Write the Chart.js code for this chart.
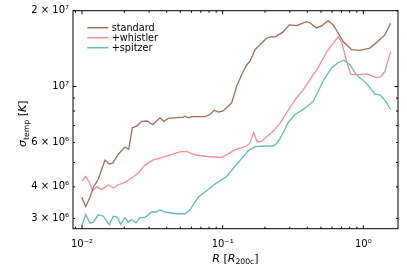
<!DOCTYPE html>
<html>
<head>
<meta charset="utf-8">
<script src="https://cdn.jsdelivr.net/npm/chart.js@4.4.1/dist/chart.umd.min.js"></script>
<style>
  html, body { margin: 0; padding: 0; background: #fff; }
  #wrap { width: 407px; height: 271px; }
</style>
</head>
<body>
<div id="wrap"><canvas id="chart" width="407" height="271"></canvas></div>
<script>
// radius in R_200c, sigma_temp in units of 1e6 K
const stdR = [0.00995, 0.01062, 0.01140, 0.01203, 0.01306, 0.01457, 0.01563, 0.01652, 0.01811, 0.02022, 0.02148, 0.02278, 0.02448, 0.02656, 0.02911, 0.03180, 0.03584, 0.03827, 0.04105, 0.05248, 0.05395, 0.05694, 0.06020, 0.07482, 0.08121, 0.08716, 0.09305, 0.1, 0.1096, 0.1159, 0.1258, 0.1365, 0.1481, 0.1563, 0.1697, 0.1841, 0.2055, 0.2230, 0.2353, 0.2696, 0.2974, 0.3357, 0.3954, 0.4174, 0.4656, 0.5054, 0.5629, 0.6109, 0.6631, 0.7198, 0.8258, 0.9458, 1.114, 1.243, 1.424, 1.563];
const stdSigma = [3.64, 3.34, 3.64, 3.98, 4.30, 5.11, 4.93, 4.97, 5.39, 5.76, 5.64, 6.87, 6.97, 7.28, 7.30, 7.06, 7.52, 7.28, 7.48, 7.57, 7.63, 7.52, 7.60, 7.60, 7.75, 8.06, 7.92, 7.99, 8.36, 8.62, 10.03, 11.15, 12.18, 12.58, 14.00, 14.65, 15.56, 15.79, 15.71, 16.48, 17.56, 17.45, 18.09, 17.92, 17.08, 17.40, 18.26, 17.56, 16.28, 15.09, 14.00, 13.91, 14.21, 14.95, 16.04, 17.83];

const whR = [0.00995, 0.01062, 0.01127, 0.01191, 0.01272, 0.01380, 0.01538, 0.01670, 0.01811, 0.02022, 0.02255, 0.02513, 0.02804, 0.03211, 0.03685, 0.04220, 0.04972, 0.05547, 0.06354, 0.07694, 0.09838, 0.1223, 0.1481, 0.1563, 0.1661, 0.1762, 0.1893, 0.2289, 0.2555, 0.2850, 0.3357, 0.3741, 0.4405, 0.4680, 0.5555, 0.6631, 0.7047, 0.7607, 0.8164, 0.9458, 1.055, 1.243, 1.334, 1.424, 1.563];
const whSigma = [4.21, 4.40, 4.17, 3.86, 4.01, 3.90, 4.08, 3.96, 4.08, 4.17, 4.34, 4.54, 4.88, 5.12, 5.23, 5.36, 5.51, 5.53, 5.36, 5.28, 5.23, 5.61, 5.81, 5.96, 6.57, 6.03, 6.07, 6.66, 7.14, 7.88, 9.03, 9.73, 11.15, 11.67, 13.87, 15.79, 14.91, 12.58, 11.15, 11.15, 11.22, 10.85, 10.95, 11.49, 13.78];

const spR = [0.00995, 0.01062, 0.01140, 0.01203, 0.01306, 0.01417, 0.01563, 0.01670, 0.01782, 0.01884, 0.02022, 0.02134, 0.02255, 0.02419, 0.02584, 0.02804, 0.03129, 0.03357, 0.03584, 0.03890, 0.04710, 0.05395, 0.05855, 0.06709, 0.07694, 0.08817, 0.1068, 0.1291, 0.1520, 0.1697, 0.2055, 0.2289, 0.2420, 0.2555, 0.2773, 0.2925, 0.3266, 0.3644, 0.4060, 0.4405, 0.4780, 0.5248, 0.5952, 0.6599, 0.7281, 0.8030, 0.9005, 1.043, 1.209, 1.312, 1.424, 1.563];
const spSigma = [2.79, 3.11, 2.87, 2.90, 3.10, 3.06, 2.83, 3.06, 3.03, 2.84, 3.02, 2.90, 2.97, 2.88, 3.02, 3.03, 3.18, 3.18, 3.24, 3.18, 3.13, 3.13, 3.24, 3.64, 3.86, 4.11, 4.40, 5.00, 5.56, 5.78, 5.81, 5.81, 5.94, 6.22, 6.77, 7.19, 7.75, 8.04, 8.41, 8.75, 9.58, 10.66, 11.85, 12.43, 12.72, 12.21, 11.05, 10.37, 9.34, 9.27, 8.84, 8.11];

const seriesNames = ['standard', '+whistler', '+spitzer'];
const seriesColors = ['#9c6e5b', '#f38d9d', '#66b9ad'];

const xTicks = [0.01, 0.1, 1];
const xTickLabels = ['10\u207B\u00B2', '10\u207B\u00B9', '10\u2070'];
const yTicks = [3e6, 4e6, 6e6, 1e7, 2e7];
const yTickLabels = ['3 \u00D7 10\u2076', '4 \u00D7 10\u2076', '6 \u00D7 10\u2076', '10\u2077', '2 \u00D7 10\u2077'];

const FONT = "'DejaVu Sans', sans-serif";

function toPoints(rs, sig) {
    return rs.map((r, i) => ({ x: r, y: sig[i] * 1e6 }));
}

// draws a row of text pieces (for sub/superscripts), centred on x
function drawRuns(ctx, runs, x, y) {
    let total = 0;
    runs.forEach(r => { ctx.font = r.font; r.w = ctx.measureText(r.t).width; total += r.w; });
    let cx = x - total / 2;
    ctx.textAlign = 'left';
    ctx.textBaseline = 'alphabetic';
    runs.forEach(r => {
        ctx.font = r.font;
        ctx.fillText(r.t, cx, y + (r.dy || 0));
        cx += r.w;
    });
}

const decorPlugin = {
    id: 'decor',
    afterDraw(chart) {
        const ctx = chart.ctx;
        const a = chart.chartArea;
        const xs = chart.scales.x, ys = chart.scales.y;
        ctx.save();
        ctx.strokeStyle = '#000';
        ctx.fillStyle = '#000';
        ctx.lineWidth = 1;

        // inward ticks on all four sides
        const xMajor = [0.01, 0.1, 1];
        const xMinor = [];
        [-3, -2, -1, 0].forEach(e => { for (let k = 2; k <= 9; k++) xMinor.push(k * Math.pow(10, e)); });
        const yMajor = [1e7];
        const yMinor = [];
        [6, 7].forEach(e => { for (let k = 2; k <= 9; k++) yMinor.push(k * Math.pow(10, e)); });

        ctx.beginPath();
        const xTick = (v, len) => {
            if (v < xs.min || v > xs.max) return;
            const p = xs.getPixelForValue(v);
            ctx.moveTo(p, a.bottom); ctx.lineTo(p, a.bottom - len);
            ctx.moveTo(p, a.top); ctx.lineTo(p, a.top + len);
        };
        const yTick = (v, len) => {
            if (v < ys.min || v > ys.max) return;
            const p = ys.getPixelForValue(v);
            ctx.moveTo(a.left, p); ctx.lineTo(a.left + len, p);
            ctx.moveTo(a.right, p); ctx.lineTo(a.right - len, p);
        };
        xMajor.forEach(v => xTick(v, 3.5));
        xMinor.forEach(v => xTick(v, 2));
        yMajor.forEach(v => yTick(v, 3.5));
        yMinor.forEach(v => yTick(v, 2));
        ctx.stroke();

        // frame
        ctx.strokeRect(a.left, a.top, a.right - a.left, a.bottom - a.top);

        // legend inside the axes
        chart.data.datasets.forEach((ds, i) => {
            const y = 27.7 + i * 10;
            ctx.strokeStyle = ds.borderColor;
            ctx.lineWidth = 1.5;
            ctx.beginPath();
            ctx.moveTo(87.3, y); ctx.lineTo(108.3, y);
            ctx.stroke();
            ctx.fillStyle = '#000';
            ctx.font = '9.7px ' + FONT;
            ctx.textAlign = 'left';
            ctx.textBaseline = 'middle';
            ctx.fillText(ds.label, 111.7, y + 0.5);
        });

        // axis titles
        ctx.fillStyle = '#000';
        drawRuns(ctx, [
            { t: 'R', font: 'italic 11px ' + FONT },
            { t: ' [', font: '11px ' + FONT },
            { t: 'R', font: 'italic 11px ' + FONT },
            { t: '200c', font: '7.7px ' + FONT, dy: 2.5 },
            { t: ']', font: '11px ' + FONT }
        ], (a.left + a.right) / 2, 261.5);

        ctx.save();
        ctx.translate(26, (a.top + a.bottom) / 2 + 4);
        ctx.rotate(-Math.PI / 2);
        drawRuns(ctx, [
            { t: '\u03C3', font: 'italic 11px ' + FONT },
            { t: 'temp', font: '7.7px ' + FONT, dy: 2.5 },
            { t: ' [', font: '11px ' + FONT },
            { t: 'K', font: 'italic 11px ' + FONT },
            { t: ']', font: '11px ' + FONT }
        ], 0, 0);
        ctx.restore();

        ctx.restore();
    }
};

new Chart(document.getElementById('chart'), {
    type: 'line',
    data: {
        datasets: [
            { label: seriesNames[0], data: toPoints(stdR, stdSigma), borderColor: seriesColors[0] },
            { label: seriesNames[1], data: toPoints(whR, whSigma), borderColor: seriesColors[1] },
            { label: seriesNames[2], data: toPoints(spR, spSigma), borderColor: seriesColors[2] }
        ].map(ds => Object.assign(ds, {
            borderWidth: 1.3,
            pointRadius: 0,
            tension: 0,
            fill: false
        }))
    },
    options: {
        responsive: false,
        animation: false,
        devicePixelRatio: 1,
        layout: { padding: { top: 10.7, right: 9, left: 0, bottom: 0 } },
        plugins: {
            legend: { display: false },
            tooltip: { enabled: false }
        },
        scales: {
            x: {
                type: 'logarithmic',
                min: 0.00863,
                max: 1.765,
                grid: { display: false, drawTicks: false },
                border: { display: false },
                afterBuildTicks: s => { s.ticks = xTicks.map(v => ({ value: v })); },
                afterFit: s => { s.height = 42.3; },
                ticks: {
                    autoSkip: false,
                    maxRotation: 0,
                    padding: 10,
                    color: '#000',
                    font: { family: FONT, size: 10 },
                    callback: (v, i) => xTickLabels[i]
                }
            },
            y: {
                type: 'logarithmic',
                min: 2.73e6,
                max: 2e7,
                grid: { display: false, drawTicks: false },
                border: { display: false },
                afterBuildTicks: s => { s.ticks = yTicks.map(v => ({ value: v })); },
                afterFit: s => { s.width = 73; },
                ticks: {
                    autoSkip: false,
                    padding: 4,
                    color: '#000',
                    font: { family: FONT, size: 10 },
                    callback: (v, i) => yTickLabels[i]
                }
            }
        }
    },
    plugins: [decorPlugin]
});
</script>
</body>
</html>
